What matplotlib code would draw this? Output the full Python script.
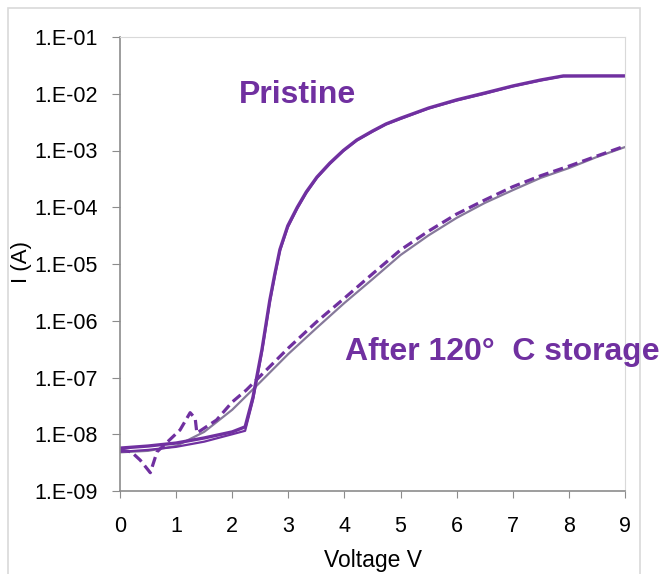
import math
import matplotlib
matplotlib.use("Agg")
import matplotlib.pyplot as plt
from matplotlib.patches import Rectangle
from matplotlib.ticker import FixedLocator, FuncFormatter

plt.rcParams["font.family"] = ["Liberation Sans", "DejaVu Sans"]

# pristine sweeps (two overlapping runs)
pristine_v = [0, 0.5, 1.0, 1.5, 2.0, 2.23, 2.37, 2.53, 2.67, 2.76, 2.85, 2.99, 3.16, 3.32,
              3.51, 3.74, 3.98, 4.22, 4.5, 4.74, 5.0, 5.5, 6.0, 6.5, 7.0, 7.5, 7.9, 8.5, 9.0]
pristine_i1 = [5.7e-9, 6.2e-9, 7.0e-9, 8.6e-9, 1.1e-8, 1.35e-8, 4.5e-8, 3.1e-7, 2.3e-6,
               6.7e-6, 1.8e-5, 4.7e-5, 1.0e-4, 1.86e-4, 3.4e-4, 6.0e-4, 1.0e-3, 1.53e-3,
               2.2e-3, 2.93e-3, 3.7e-3, 5.6e-3, 7.8e-3, 1.03e-2, 1.37e-2, 1.75e-2, 2.06e-2,
               2.06e-2, 2.06e-2]
pristine_i2 = [4.9e-9, 5.3e-9, 6.0e-9, 7.4e-9, 1.0e-8, 1.15e-8, 4.0e-8, 2.8e-7, 2.1e-6,
               6.2e-6, 1.7e-5, 4.4e-5, 9.5e-5, 1.78e-4, 3.3e-4, 5.8e-4, 9.8e-4, 1.5e-3,
               2.15e-3, 2.88e-3, 3.6e-3, 5.5e-3, 7.6e-3, 1.0e-2, 1.35e-2, 1.72e-2, 2.04e-2,
               2.06e-2, 2.06e-2]

# after 120 C storage, dashed sweep
after_dash_v = [0, 0.2, 0.36, 0.54, 0.66, 1.07, 1.25, 1.34, 1.37, 1.72, 2.0, 2.25, 2.5,
                2.75, 3.0, 3.5, 4.0, 4.5, 5.0, 5.5, 6.0, 6.5, 7.0, 7.5, 8.0, 8.5, 9.0]
after_dash_i = [5.3e-9, 4.9e-9, 3.5e-9, 2.1e-9, 4.9e-9, 1.19e-8, 2.4e-8, 1.9e-8, 1.05e-8,
                1.78e-8, 3.7e-8, 6.0e-8, 1.06e-7, 1.87e-7, 3.3e-7, 9.5e-7, 2.5e-6, 6.7e-6,
                1.77e-5, 3.8e-5, 7.6e-5, 1.34e-4, 2.3e-4, 3.6e-4, 5.3e-4, 8.0e-4, 1.2e-3]

# after 120 C storage, solid sweep
after_solid_v = [0, 0.5, 1.0, 1.5, 2.0, 2.5, 3.0, 3.5, 4.0, 4.5, 5.0, 5.5, 6.0, 6.5,
                 7.0, 7.5, 8.0, 8.5, 9.0]
after_solid_i = [4.8e-9, 5.1e-9, 6.2e-9, 1.1e-8, 2.7e-8, 8.3e-8, 2.6e-7, 7.4e-7, 2.06e-6,
                 5.4e-6, 1.44e-5, 3.2e-5, 6.5e-5, 1.19e-4, 2.0e-4, 3.3e-4, 4.9e-4, 7.7e-4,
                 1.15e-3]

y_ticks = [1e-9, 1e-8, 1e-7, 1e-6, 1e-5, 1e-4, 1e-3, 1e-2, 1e-1]
x_ticks = [0, 1, 2, 3, 4, 5, 6, 7, 8, 9]

purple = "#7030A0"
grey_line = "#86799a"
axis_grey = "#8c8c8c"
frame_grey = "#d9d9d9"

fig = plt.figure(figsize=(6.61, 5.74), dpi=100)
fig.patches.append(Rectangle((8 / 661, -0.02), 632 / 661, 1.02 - 8 / 574,
                             transform=fig.transFigure, fill=False,
                             edgecolor=frame_grey, lw=1.2))
ax = fig.add_axes([120 / 661, 1 - 491 / 574, 505 / 661, 454 / 574])

ax.plot(after_solid_v, after_solid_i, color=grey_line, lw=1.6)
ax.plot(after_dash_v, after_dash_i, color=purple, lw=2.3, ls=(0, (3.2, 1.6)))
ax.plot(pristine_v, pristine_i2, color=purple, lw=1.6)
ax.plot(pristine_v, pristine_i1, color=purple, lw=2.4)

ax.set_yscale("log")
ax.set_xlim(0, 9)
ax.set_ylim(1e-9, 1e-1)
ax.yaxis.set_major_locator(FixedLocator(y_ticks))
ax.yaxis.set_minor_locator(FixedLocator([]))
ax.yaxis.set_major_formatter(FuncFormatter(lambda v, p: "1.E-%02d" % round(-math.log10(v))))
ax.set_xticks(x_ticks)

for s in ["top", "right"]:
    ax.spines[s].set_color(frame_grey)
for s in ["left", "bottom"]:
    ax.spines[s].set_color(axis_grey)
    ax.spines[s].set_linewidth(1.2)
ax.tick_params(axis="y", direction="out", length=6, color=axis_grey, labelsize=15.5, pad=10)
ax.tick_params(axis="x", direction="out", length=5, color=axis_grey, labelsize=15.5, pad=13)

fig.text(22 / 661, 1 - 262 / 574, "I (A)", rotation=90, fontsize=16, ha="center", va="center")
fig.text(373 / 661, 1 - 560 / 574, "Voltage V", fontsize=16.5, ha="center", va="center")

ax.text(2.12, 6.8e-3, "Pristine", color=purple, fontsize=23, fontweight="bold",
        ha="left", va="baseline", clip_on=False)
ax.text(4.01, 2.04e-7, "After 120°  C storage", color=purple, fontsize=23,
        fontweight="bold", ha="left", va="baseline", clip_on=False)

fig.savefig("out.png", dpi=100)
